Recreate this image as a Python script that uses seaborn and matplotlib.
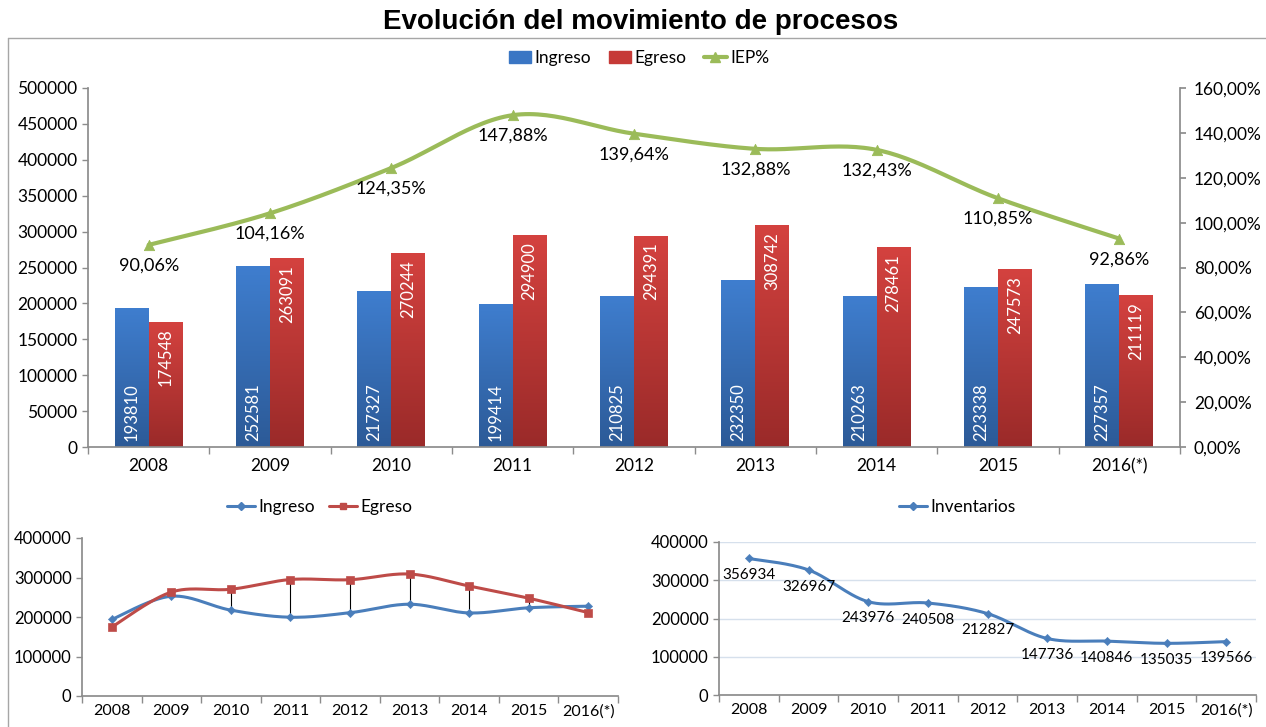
import numpy as np
import pandas as pd
import matplotlib
matplotlib.use('Agg')
import matplotlib.pyplot as plt
from matplotlib.colors import LinearSegmentedColormap
from matplotlib.lines import Line2D
from matplotlib.patches import Patch
from matplotlib.ticker import FuncFormatter
import seaborn as sns

# datos
years = ['2008', '2009', '2010', '2011', '2012', '2013', '2014', '2015', '2016(*)']
ingreso = [193810, 252581, 217327, 199414, 210825, 232350, 210263, 223338, 227357]
egreso = [174548, 263091, 270244, 294900, 294391, 308742, 278461, 247573, 211119]
iep = [0.9006, 1.0416, 1.2435, 1.4788, 1.3964, 1.3288, 1.3243, 1.1085, 0.9286]
inventarios = [356934, 326967, 243976, 240508, 212827, 147736, 140846, 135035, 139566]

BLUE = '#3A76C4'
RED = '#C63A37'
GREEN = '#9BBB59'
LBLUE = '#4A7EBB'
LRED = '#BE4B48'
SPINE = '#8C8C8C'

sns.set_theme(style='white')
plt.rcParams['font.family'] = ['Lato', 'DejaVu Sans']
plt.rcParams['text.color'] = 'black'


def smooth(xs, ys, n=30):
    # curva suavizada tipo Excel (bezier catmull-rom)
    p = np.column_stack([xs, ys]).astype(float)
    out = []
    for i in range(len(p) - 1):
        p0 = p[i - 1] if i > 0 else p[i]
        p1, p2 = p[i], p[i + 1]
        p3 = p[i + 2] if i + 2 < len(p) else p[i + 1]
        c1 = p1 + (p2 - p0) / 6
        c2 = p2 - (p3 - p1) / 6
        t = np.linspace(0, 1, n)[:, None]
        seg = ((1 - t) ** 3) * p1 + 3 * ((1 - t) ** 2) * t * c1 + 3 * (1 - t) * t ** 2 * c2 + t ** 3 * p2
        out.append(seg if i == 0 else seg[1:])
    out = np.vstack(out)
    return out[:, 0], out[:, 1]


def style_cat_axis(ax, n):
    ax.set_xlim(-0.5, n - 0.5)
    ax.set_xticks(range(n))
    ax.set_xticks(np.arange(-0.5, n, 1), minor=True)
    ax.tick_params(axis='x', which='major', length=0, pad=8)
    ax.tick_params(axis='x', which='minor', length=5, color=SPINE, width=1, bottom=True)
    ax.tick_params(axis='y', length=4, color=SPINE, width=1, left=True)
    for s in ['top', 'right']:
        ax.spines[s].set_visible(False)
    for s in ['left', 'bottom']:
        ax.spines[s].set_color(SPINE)


fig = plt.figure(figsize=(12.66, 7.27), dpi=100)
W, H = 1266, 727

fig.text(0.506, 1 - 22 / H, 'Evolución del movimiento de procesos', ha='center', va='center',
         fontsize=20, fontweight='bold', color='black', family=['Liberation Sans', 'DejaVu Sans'])

# marco
fig.add_artist(Line2D([8 / W, 1], [1 - 38 / H, 1 - 38 / H], transform=fig.transFigure, color='#A6A6A6', lw=1))
fig.add_artist(Line2D([8 / W, 8 / W], [0, 1 - 38 / H], transform=fig.transFigure, color='#A6A6A6', lw=1))

# ---------- grafico principal ----------
ax = fig.add_axes([88 / W, 1 - 447 / H, (1180 - 88) / W, (447 - 88) / H])
df = pd.DataFrame({'year': years * 2,
                   'valor': ingreso + egreso,
                   'serie': ['Ingreso'] * 9 + ['Egreso'] * 9})
sns.barplot(data=df, x='year', y='valor', hue='serie', order=years, hue_order=['Ingreso', 'Egreso'],
            palette=[BLUE, RED], width=0.56, legend=False, ax=ax, saturation=1)

grads = {BLUE: LinearSegmentedColormap.from_list('b', ['#2C5A97', '#3F7ECF']),
         RED: LinearSegmentedColormap.from_list('r', ['#9A2A29', '#D4423F'])}
bars = list(ax.patches)
for i, p in enumerate(bars):
    cmap = grads[BLUE] if i < 9 else grads[RED]
    x0, w, h = p.get_x(), p.get_width(), p.get_height()
    p.set_edgecolor('none')
    im = ax.imshow(np.linspace(0, 1, 256).reshape(-1, 1), origin='lower', cmap=cmap,
                   extent=[x0, x0 + w, 0, h], aspect='auto', zorder=p.get_zorder() + 0.1)
    im.set_clip_path(p)
    cx = x0 + w / 2
    if i < 9:
        ax.annotate(str(ingreso[i]), (cx, 0), xytext=(0, 4), textcoords='offset points',
                    rotation=90, ha='center', va='bottom', color='white', fontsize=12, zorder=5)
    else:
        ax.annotate(str(egreso[i - 9]), (cx, h), xytext=(0, -5), textcoords='offset points',
                    rotation=90, ha='center', va='top', color='white', fontsize=12, zorder=5)

ax.set_ylim(0, 500000)
ax.set_yticks(range(0, 500001, 50000))
ax.set_xlabel('')
ax.set_ylabel('')
style_cat_axis(ax, 9)
ax.set_xticklabels(years)
ax.tick_params(axis='both', labelsize=12.5, labelcolor='black')

ax2 = ax.twinx()
sx, sy = smooth(np.arange(9), iep)
ax2.plot(sx, sy, color=GREEN, lw=3)
sns.scatterplot(x=np.arange(9), y=iep, marker='^', color=GREEN, s=55, edgecolor=GREEN, ax=ax2, zorder=4)
for i, v in enumerate(iep):
    ax2.annotate(f'{v * 100:.2f}%'.replace('.', ','), (i, v), xytext=(0, -9), textcoords='offset points',
                 ha='center', va='top', fontsize=13, color='black')
ax2.set_ylim(0, 1.6)
ax2.set_yticks(np.arange(0, 1.61, 0.2))
ax2.yaxis.set_major_formatter(FuncFormatter(lambda v, _: f'{v * 100:.2f}%'.replace('.', ',')))
ax2.tick_params(axis='y', length=4, color=SPINE, right=True, labelsize=12.5, labelcolor='black', pad=6)
for s in ['top', 'left', 'bottom']:
    ax2.spines[s].set_visible(False)
ax2.spines['right'].set_color(SPINE)
ax2.set_xlim(-0.5, 8.5)

fig.legend(handles=[Patch(color=BLUE), Patch(color=RED),
                    Line2D([], [], color=GREEN, lw=3, marker='^', markersize=7)],
           labels=['Ingreso', 'Egreso', 'IEP%'], loc='center', bbox_to_anchor=(639 / W, 1 - 58 / H),
           ncol=3, frameon=False, fontsize=12.5, handlelength=1.3, handleheight=0.7,
           columnspacing=1.0, handletextpad=0.2)

# ---------- ingreso vs egreso ----------
ax3 = fig.add_axes([82 / W, 1 - 696 / H, (618 - 82) / W, (696 - 538) / H])
xs = np.arange(9)
ax3.vlines(xs, ingreso, egreso, color='black', lw=0.8, zorder=1)
a, b = smooth(xs, ingreso)
ax3.plot(a, b, color=LBLUE, lw=2.2, zorder=2)
a, b = smooth(xs, egreso)
ax3.plot(a, b, color=LRED, lw=2.2, zorder=2)
sns.scatterplot(x=xs, y=ingreso, marker='D', color=LBLUE, s=18, edgecolor=LBLUE, ax=ax3, zorder=3)
sns.scatterplot(x=xs, y=egreso, marker='s', color=LRED, s=36, edgecolor=LRED, ax=ax3, zorder=3)
ax3.set_ylim(0, 400000)
ax3.set_yticks(range(0, 400001, 100000))
style_cat_axis(ax3, 9)
ax3.set_xticklabels(years)
ax3.tick_params(axis='y', labelsize=12, labelcolor='black')
ax3.tick_params(axis='x', which='major', labelsize=11.5, labelcolor='black', pad=6)
fig.legend(handles=[Line2D([], [], color=LBLUE, lw=2.2, marker='D', markersize=4),
                    Line2D([], [], color=LRED, lw=2.2, marker='s', markersize=5)],
           labels=['Ingreso', 'Egreso'], loc='center', bbox_to_anchor=(320 / W, 1 - 507 / H),
           ncol=2, frameon=False, fontsize=12.5, handlelength=1.6, columnspacing=0.8, handletextpad=0.2)

# ---------- inventarios ----------
ax4 = fig.add_axes([719 / W, 1 - 695 / H, (1256 - 719) / W, (695 - 542) / H])
ax4.yaxis.grid(True, color='#D6E0EC', lw=1)
ax4.set_axisbelow(True)
a, b = smooth(xs, inventarios)
ax4.plot(a, b, color=LBLUE, lw=2.2, zorder=2)
sns.scatterplot(x=xs, y=inventarios, marker='D', color=LBLUE, s=18, edgecolor=LBLUE, ax=ax4, zorder=3)
for i, v in enumerate(inventarios):
    ax4.annotate(str(v), (i, v), xytext=(0, -7), textcoords='offset points',
                 ha='center', va='top', fontsize=11, color='black')
ax4.set_ylim(0, 400000)
ax4.set_yticks(range(0, 400001, 100000))
style_cat_axis(ax4, 9)
ax4.set_xticklabels(years)
ax4.tick_params(axis='y', labelsize=12, labelcolor='black')
ax4.tick_params(axis='x', which='major', labelsize=11.5, labelcolor='black', pad=6)
fig.legend(handles=[Line2D([], [], color=LBLUE, lw=2.2, marker='D', markersize=4)],
           labels=['Inventarios'], loc='center', bbox_to_anchor=(957 / W, 1 - 507 / H),
           frameon=False, fontsize=12.5, handlelength=1.6, handletextpad=0.2)

plt.savefig('out.png', dpi=100)
